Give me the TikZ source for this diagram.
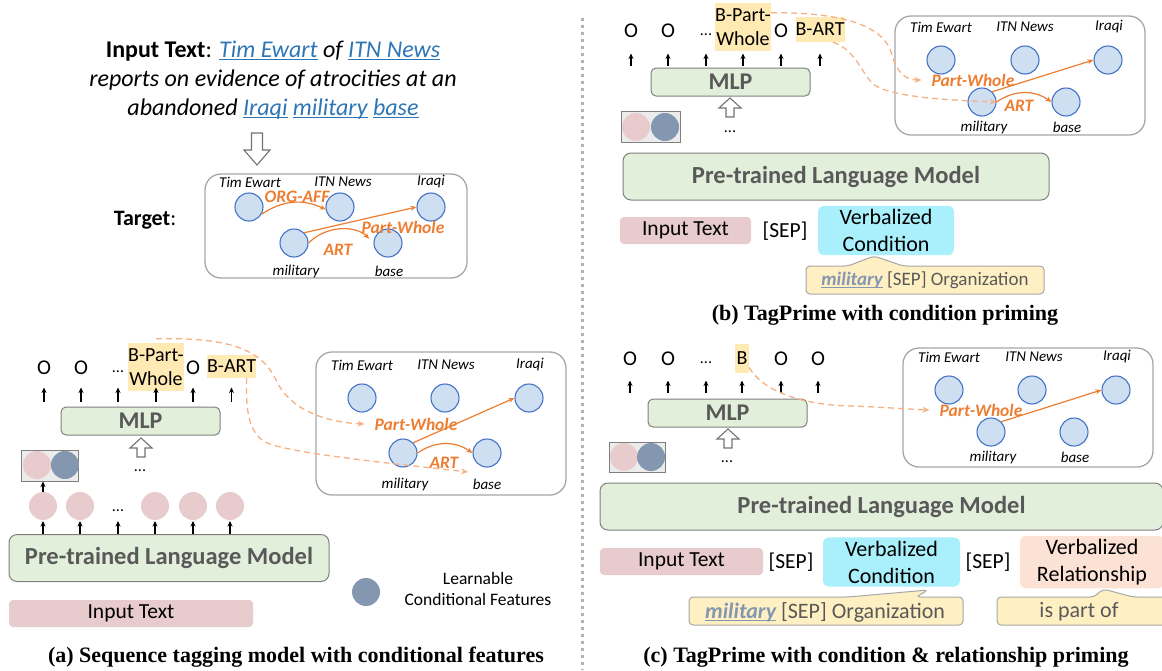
\documentclass[tikz,border=0pt]{standalone}
\usepackage{fontspec}
\setmainfont{Carlito}
\newfontfamily\capfont{Liberation Serif}
\usetikzlibrary{arrows.meta}

\definecolor{entBlue}{RGB}{68,114,196}
\definecolor{entFill}{RGB}{207,223,242}
\definecolor{relOrange}{RGB}{237,125,49}
\definecolor{linkOrange}{RGB}{244,177,131}
\definecolor{plmGreen}{RGB}{226,239,218}
\definecolor{inPink}{RGB}{232,203,205}
\definecolor{featBlue}{RGB}{132,151,176}
\definecolor{tagYellow}{RGB}{255,234,180}
\definecolor{noteYellow}{RGB}{255,240,195}
\definecolor{condCyan}{RGB}{170,240,252}
\definecolor{relPeach}{RGB}{251,226,213}
\definecolor{wordBlue}{RGB}{46,117,182}
\definecolor{boxGray}{RGB}{166,166,166}
\definecolor{darkText}{RGB}{89,89,89}

\newcommand{\ulword}[1]{{\color{wordBlue}\setbox0\hbox{#1}\rlap{\rule[-3pt]{\wd0}{1.2pt}}\box0}}
\newcommand{\milword}{{\color{featBlue}\setbox0\hbox{\bfseries\itshape military}\rlap{\rule[-3pt]{\wd0}{1pt}}\box0}}

\begin{document}
\begin{tikzpicture}[x=1pt, y=-1pt,
  ent/.style={circle, draw=entBlue, fill=entFill, line width=1.1pt, minimum size=28pt, inner sep=0pt},
  entname/.style={font=\fontsize{15}{15}\selectfont\itshape, inner sep=0pt},
  rellbl/.style={font=\fontsize{17.5}{17.5}\selectfont\bfseries\itshape, text=relOrange, inner sep=0pt},
  relarrow/.style={-{Stealth[length=6pt,width=5pt]}, relOrange, line width=1.2pt},
  linkarrow/.style={-{Stealth[length=7pt,width=6pt]}, linkOrange, line width=1.3pt, dash pattern=on 6pt off 4pt},
  graphbox/.style={draw=boxGray, line width=1.3pt, rounded corners=16pt},
  tag/.style={font=\fontsize{21}{21}\selectfont, inner sep=0pt},
  taghl/.style={fill=tagYellow, inner sep=0pt, font=\fontsize{20}{24}\selectfont, align=center},
  dots/.style={font=\fontsize{16}{16}\selectfont, inner sep=0pt},
  upar/.style={-{Stealth[length=5.5pt,width=5pt]}, line width=1.2pt},
  mlpbox/.style={draw=gray, fill=plmGreen, line width=1pt, rounded corners=5pt, minimum width=159pt, minimum height=28pt, font=\fontsize{24}{24}\selectfont\bfseries, text=darkText},
  plmbox/.style={draw=gray, fill=plmGreen, line width=1pt, rounded corners=8pt, minimum height=47pt, font=\fontsize{24.5}{24.5}\selectfont\bfseries, text=darkText},
  inbox/.style={fill=inPink, rounded corners=4pt, minimum height=27pt, font=\fontsize{21.5}{21.5}\selectfont},
  featbox/.style={draw=gray, fill=gray!15, line width=1pt, minimum height=31pt},
  pinkdot/.style={circle, fill=inPink, minimum size=28pt, inner sep=0pt},
  bluedot/.style={circle, fill=featBlue, minimum size=28pt, inner sep=0pt},
  condbox/.style={fill=condCyan, rounded corners=6pt, minimum height=45pt, align=center, font=\fontsize{22}{27}\selectfont},
  sep/.style={font=\fontsize{21.5}{21.5}\selectfont, inner sep=0pt},
  note/.style={draw=boxGray, fill=noteYellow, line width=1pt, rounded corners=4pt},
  notetxt/.style={font=\fontsize{19}{19}\selectfont, text=darkText, inner sep=0pt},
  caption/.style={font=\capfont\bfseries\fontsize{22}{22}\selectfont, inner sep=0pt},
  hollowdown/.pic={\draw[draw=gray!90!black, fill=white, line width=1.1pt] (-5.5,0) -- (5.5,0) -- (5.5,17) -- (13,17) -- (0,32) -- (-13,17) -- (-5.5,17) -- cycle;},
  hollowup/.pic={\draw[draw=gray!90!black, fill=white, line width=1.1pt] (-4,0) -- (4,0) -- (4,-9) -- (11,-9) -- (0,-19) -- (-11,-9) -- (-4,-9) -- cycle;}
]
\useasboundingbox (0,0) rectangle (1162,670);

% ---------- (a) input text and target
\node[font=\fontsize{24}{29}\selectfont, align=center, inner sep=0pt] (inText) at (273,80)
  {\textbf{Input Text}: \textit{\ulword{Tim Ewart} of \ulword{ITN News}}\\
   \textit{reports on evidence of atrocities at an}\\
   \textit{abandoned \ulword{Iraqi} \ulword{military} \ulword{base}}};
\pic at (257,133) {hollowdown};
\node[font=\fontsize{22}{22}\selectfont, inner sep=0pt] (tgt) at (145,220) {\textbf{Target}:};

\draw[graphbox] (205,174) rectangle (467,278);
\node[ent] (tTim) at (249,207) {};
\node[ent] (tITN) at (340,207) {};
\node[ent] (tIraqi) at (431,207) {};
\node[ent] (tMil) at (294,243) {};
\node[ent] (tBase) at (388,243) {};
\node[entname] (tTimL) at (250,182) {Tim Ewart};
\node[entname] (tITNL) at (343,182) {ITN News};
\node[entname] (tIraqiL) at (431,182) {Iraqi};
\node[entname] (tMilL) at (296,271) {military};
\node[entname] (tBaseL) at (389,271) {base};
\draw[relarrow] (tTim.-30) to[bend left=30] (tITN.190);
\draw[relarrow] (tMil.45) -- (tIraqi.west);
\draw[relarrow, shorten >=6pt] (tMil.east) to[bend left=45] (tBase.west);
\node[rellbl] (tOrgL) at (297,197) {ORG-AFF};
\node[rellbl] (tPWL) at (403,227) {Part-Whole};
\node[rellbl] (tArtL) at (338,250) {ART};

% ---------- (a) tagging model
\node[tag] (aO1) at (44,368) {O};
\node[tag] (aO2) at (81,368) {O};
\node[dots] (aDots) at (118,372) {...};
\node[taghl, minimum width=56pt, minimum height=48pt] (aPW) at (156,367) {B-Part-\\Whole};
\node[tag] (aO3) at (193,368) {O};
\node[taghl, minimum width=49pt, minimum height=23pt] (aART) at (231.5,366.5) {B-ART};
\node[mlpbox] (aMLP) at (140.5,421) {MLP};
\foreach \t in {aO1,aO2,aDots,aPW,aO3,aART}
  \draw[upar] ([yshift=5pt]\t |- aMLP.north) -- ++(0,-14);
\pic at (141,457) {hollowup};
\node[dots] (aDots2) at (140,471) {...};
\node[featbox, minimum width=57pt] (aFeat) at (49.5,465.5) {};
\node[pinkdot] (aFeatP) at (37,465) {};
\node[bluedot] (aFeatB) at (65,465) {};

\node[pinkdot] (aP1) at (43,506) {};
\node[pinkdot] (aP2) at (80,506) {};
\node[dots] (aPDots) at (118,511) {...};
\node[pinkdot] (aP3) at (155,506) {};
\node[pinkdot] (aP4) at (193,506) {};
\node[pinkdot] (aP5) at (230,506) {};
\node[plmbox, minimum width=320pt] (aPLM) at (169,558) {Pre-trained Language Model};
\foreach \t in {aP1,aP2,aPDots,aP3,aP4,aP5}
  \draw[upar] (\t |- aPLM.north) -- ++(0,-13);
\draw[upar] (aP1.north) -- (aP1 |- aFeat.south);
\node[inbox, minimum width=244pt] (aInput) at (131,613.5) {Input Text};

\node[bluedot] (legDot) at (366,592) {};
\node[font=\fontsize{17.5}{21}\selectfont, align=center, inner sep=0pt] (legTxt) at (478,589) {Learnable\\Conditional Features};

\draw[graphbox] (316,352) rectangle (566,495);
\node[ent] (aTim) at (362,398) {};
\node[ent] (aITN) at (445,398) {};
\node[ent] (aIraqi) at (529,398) {};
\node[ent] (aMil) at (403,453) {};
\node[ent] (aBase) at (487,453) {};
\node[entname] (aTimL) at (362,365) {Tim Ewart};
\node[entname] (aITNL) at (446,365) {ITN News};
\node[entname] (aIraqiL) at (530,365) {Iraqi};
\node[entname] (aMilL) at (405,484) {military};
\node[entname] (aBaseL) at (487,484) {base};
\draw[relarrow] (aMil.45) -- (aIraqi.west);
\draw[relarrow] (aMil.east) to[bend left=35] (aBase.west);
\node[rellbl] (aPWl) at (416,424) {Part-Whole};
\node[rellbl] (aArtl) at (444,463) {ART};

\draw[linkarrow] ([yshift=4pt]aPW.north) .. controls (230,337) and (262,350) .. (276,380)
  .. controls (290,410) and (325,422) .. ([xshift=-10pt]aPWl.west);
\draw[linkarrow] ([xshift=15pt]aART.south) .. controls (246,410) and (248,428) .. (262,440)
  .. controls (276,452) and (380,462) .. ([xshift=-19pt,yshift=-19pt]aBase.center);

\node[caption] (capA) at (296,657) {(a) Sequence tagging model with conditional features};

% ---------- divider
\draw[gray!60, line width=3pt, dash pattern=on 3pt off 4pt] (582,18) -- (582,670);

% ---------- (b) condition priming
\node[tag] (bO1) at (631,31) {O};
\node[tag] (bO2) at (668,31) {O};
\node[dots] (bDots) at (706,35) {...};
\node[taghl, minimum width=56pt, minimum height=48pt] (bPW) at (743,27) {B-Part-\\Whole};
\node[tag] (bO3) at (781,31) {O};
\node[taghl, minimum width=48pt, minimum height=25pt] (bART) at (820,29.5) {B-ART};
\node[mlpbox] (bMLP) at (730.5,82) {MLP};
\foreach \t in {bO1,bO2,bDots,bPW,bO3,bART}
  \draw[upar] ([yshift=2pt]\t |- bMLP.north) -- ++(0,-12);
\pic at (730,117) {hollowup};
\node[dots] (bDots2) at (730,132) {...};
\node[featbox, minimum width=59pt] (bFeat) at (650.5,126.5) {};
\node[pinkdot] (bFeatP) at (636,127) {};
\node[bluedot] (bFeatB) at (665,127) {};
\node[plmbox, minimum width=426pt] (bPLM) at (836,176.5) {Pre-trained Language Model};
\node[inbox, minimum width=131pt] (bInput) at (685.5,230.5) {Input Text};
\node[sep] (bSep) at (785,231) {[SEP]};
\node[condbox, minimum width=136pt] (bCond) at (886,230.5) {Verbalized\\Condition};
\draw[note] (806,266) -- (848,266) -- (874,256) -- (903,266) -- (1044,266) -- (1044,294) -- (806,294) -- cycle;
\node[notetxt] (bNote) at (925,280) {\milword\ [SEP] Organization};

\draw[graphbox] (895,16) rectangle (1145,135);
\node[ent] (bTim) at (941,60) {};
\node[ent] (bITN) at (1025,60) {};
\node[ent] (bIraqi) at (1108,60) {};
\node[ent] (bMil) at (982,102) {};
\node[ent] (bBase) at (1066,102) {};
\node[entname] (bTimL) at (941,27) {Tim Ewart};
\node[entname] (bITNL) at (1025,27) {ITN News};
\node[entname] (bIraqiL) at (1109,27) {Iraqi};
\node[entname] (bMilL) at (984,127) {military};
\node[entname] (bBaseL) at (1067,127) {base};
\draw[relarrow] (bMil.45) -- (bIraqi.west);
\draw[relarrow] (bMil.east) to[bend left=35] (bBase.west);
\node[rellbl] (bPWl) at (973,80) {Part-Whole};
\node[rellbl] (bArtl) at (1019,106) {ART};

\draw[linkarrow] ([yshift=-10pt]bPW.north east) .. controls (840,12) and (885,25) .. (892,55)
  .. controls (897,72) and (905,80) .. ([xshift=-10pt]bPWl.west);
\draw[linkarrow] ([xshift=13pt]bART.south) .. controls (855,50) and (860,70) .. (872,83)
  .. controls (885,96) and (940,100) .. (bMil.east);

\node[caption] (capB) at (885,315) {(b) TagPrime with condition priming};

% ---------- (c) condition and relationship priming
\node[tag] (cO1) at (630,359) {O};
\node[tag] (cO2) at (668,359) {O};
\node[dots] (cDots) at (706,363) {...};
\node[taghl, minimum width=14pt, minimum height=29pt] (cB) at (742,358.5) {B};
\node[tag] (cO3) at (781,359) {O};
\node[tag] (cO4) at (818,359) {O};
\node[mlpbox] (cMLP) at (727.5,413) {MLP};
\foreach \t in {cO1,cO2,cDots,cB,cO3,cO4}
  \draw[upar] ([yshift=6pt]\t |- cMLP.north) -- ++(0,-12);
\pic at (728,448) {hollowup};
\node[dots] (cDots2) at (727,462) {...};
\node[featbox, minimum width=56pt, minimum height=30pt] (cFeat) at (637,457) {};
\node[pinkdot] (cFeatP) at (624,457) {};
\node[bluedot] (cFeatB) at (651,457) {};
\node[plmbox, minimum width=563pt] (cPLM) at (881.5,506.5) {Pre-trained Language Model};
\node[inbox, minimum width=163pt] (cInput) at (681.5,561.5) {Input Text};
\node[sep] (cSep1) at (791,562) {[SEP]};
\node[condbox, minimum width=137pt, minimum height=46pt] (cCond) at (891.5,562) {Verbalized\\Condition};
\node[sep] (cSep2) at (988,562) {[SEP]};
\node[condbox, fill=relPeach, minimum width=144pt, minimum height=46pt] (cRel) at (1092,562) {Verbalized\\Relationship};
\draw[note] (689,597) -- (848,597) -- (928,590) -- (916,597) -- (963,597) -- (963,625) -- (689,625) -- cycle;
\node[notetxt, font=\fontsize{22}{22}\selectfont] (cNote1) at (825,612) {\milword\ [SEP] Organization};
\draw[note] (997,597) -- (1094,597) -- (1103,589) -- (1133,597) -- (1170,597) -- (1170,625) -- (997,625) -- cycle;
\node[notetxt, font=\fontsize{22}{22}\selectfont] (cNote2) at (1079,612) {is part of};

\draw[graphbox] (903,348) rectangle (1153,467);
\node[ent] (cTim) at (949,390) {};
\node[ent] (cITN) at (1032,390) {};
\node[ent] (cIraqi) at (1116,390) {};
\node[ent] (cMil) at (991,432) {};
\node[ent] (cBase) at (1074,432) {};
\node[entname] (cTimL) at (949,357) {Tim Ewart};
\node[entname] (cITNL) at (1034,357) {ITN News};
\node[entname] (cIraqiL) at (1117,357) {Iraqi};
\node[entname] (cMilL) at (993,457) {military};
\node[entname] (cBaseL) at (1075,457) {base};
\draw[relarrow] (cMil.45) -- (cIraqi.west);
\node[rellbl] (cPWl) at (981,410) {Part-Whole};

\draw[linkarrow] ([yshift=-9pt]cB.east) .. controls (762,390) and (800,405) .. (850,406)
  .. controls (880,407) and (905,409) .. ([xshift=-10pt]cPWl.west);

\node[caption] (capC) at (886,657) {(c) TagPrime with condition \& relationship priming};
\end{tikzpicture}
\end{document}
